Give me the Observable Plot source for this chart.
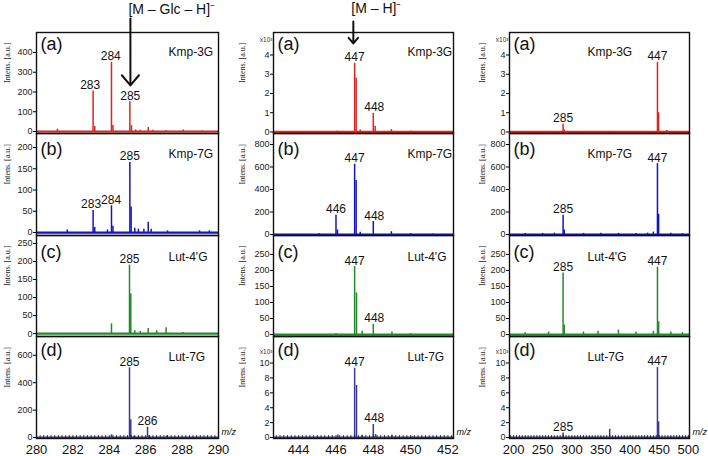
<!DOCTYPE html>
<html><head><meta charset="utf-8">
<script src="https://cdn.jsdelivr.net/npm/d3@7"></script>
<script src="https://cdn.jsdelivr.net/npm/@observablehq/plot@0.6"></script>
<style>
body{margin:0;background:#fff;}
#fig{position:relative;width:708px;height:456px;overflow:hidden;background:#fff;}
#fig svg{position:absolute;overflow:visible;background:transparent;}
</style></head><body><div id="fig"></div>
<script>
// ---------- categories ----------
const compounds = ["Kmp-3G", "Kmp-7G", "Lut-4'G", "Lut-7G"];
const panelTags = ["(a)", "(b)", "(c)", "(d)"];
const seriesColors = ["#e1231e", "#1414c4", "#25892b", "#3a3a94"];

// ---------- column 1: m/z 280–290 (fragment region) ----------
const fragMz_kmp3g  = [281.15, 283.11, 283.2, 284.12, 284.2, 285.13, 285.22, 285.45, 285.7, 286.14, 286.4, 287.1, 288.06, 289.1];
const fragInt_kmp3g = [12, 205, 25, 351, 30, 151, 30, 8, 6, 20, 6, 5, 8, 3];
const fragMz_kmp7g  = [281.69, 283.11, 283.2, 283.9, 284.12, 284.2, 285.13, 285.2, 285.4, 285.6, 285.9, 286.14, 286.3, 287.2, 288.96, 289.5];
const fragInt_kmp7g = [6, 52, 12, 6, 63, 15, 165, 60, 10, 8, 8, 24, 8, 4, 4, 4];
const fragMz_lut4g  = [284.12, 285.11, 285.18, 285.4, 285.7, 286.14, 286.6, 287.12, 288.06];
const fragInt_lut4g = [27, 190, 110, 8, 6, 14, 8, 16, 3];
const fragMz_lut7g  = [284.12, 285.11, 285.18, 285.35, 286.1, 286.2, 287.15];
const fragInt_lut7g = [20, 509, 130, 10, 75, 15, 12];

// ---------- column 2: m/z 443–452 ([M–H]- region); Kmp-3G and Lut-7G in x10^3 ----------
const parMz_kmp3g  = [445.0, 446.05, 447.0, 447.08, 447.3, 448.0, 448.1, 448.97, 450.0, 451.0];
const parInt_kmp3g = [0.02, 0.04, 3.57, 2.8, 0.1, 0.97, 0.3, 0.12, 0.04, 0.02];
const parMz_kmp7g  = [445.1, 446.0, 446.08, 447.0, 447.08, 447.3, 448.0, 448.97, 450.0, 451.2];
const parInt_kmp7g = [6, 170, 40, 625, 480, 20, 115, 25, 8, 4];
const parMz_lut4g  = [446.0, 447.0, 447.1, 447.4, 448.0, 449.0, 450.0];
const parInt_lut4g = [3, 212, 130, 10, 32, 8, 3];
const parMz_lut7g  = [445.0, 446.1, 447.0, 447.1, 447.4, 448.0, 448.12, 449.0, 450.1];
const parInt_lut7g = [0.1, 0.35, 9.3, 7.0, 0.3, 1.75, 0.4, 0.3, 0.1];

// ---------- column 3: m/z 200–500 (full range); Kmp-3G and Lut-7G in x10^3 ----------
const fullMz_kmp3g  = [230, 285, 287, 330, 365, 400, 447, 449, 463, 480];
const fullInt_kmp3g = [0.02, 0.4, 0.1, 0.02, 0.03, 0.02, 3.62, 1.0, 0.08, 0.02];
const fullMz_kmp7g  = [220, 250, 270, 285, 287, 320, 350, 380, 410, 430, 440, 447, 449, 470, 490];
const fullInt_kmp7g = [8, 10, 12, 172, 40, 10, 12, 10, 8, 12, 22, 630, 180, 10, 8];
const fullMz_lut4g  = [220, 260, 285, 287, 320, 345, 380, 410, 440, 447, 449, 470, 490];
const fullInt_lut4g = [6, 8, 192, 30, 8, 10, 14, 8, 10, 210, 40, 8, 6];
const fullMz_lut7g  = [240, 285, 300, 330, 350, 365, 400, 430, 447, 449, 470];
const fullInt_lut7g = [0.05, 0.62, 0.05, 0.08, 0.06, 1.1, 0.05, 0.05, 9.4, 2.1, 0.08];

// ---------- peak labels ----------
const fragLabelMz   = [[282.95, 284.08, 285.15], [283.0, 284.1, 285.13], [285.11], [285.11, 286.1]];
const fragLabelText = [["283", "284", "285"], ["283", "284", "285"], ["285"], ["285", "286"]];
const parLabelMz    = [[447.0, 448.05], [446.0, 447.0, 448.05], [447.0, 448.05], [447.0, 448.05]];
const parLabelText  = [["447", "448"], ["446", "447", "448"], ["447", "448"], ["447", "448"]];
const fullLabelMz   = [[285, 447], [285, 447], [285, 447], [285, 447]];
const fullLabelText = [["285", "447"], ["285", "447"], ["285", "447"], ["285", "447"]];

// ---------- axis ticks ----------
const fragXTicks = [280, 282, 284, 286, 288, 290];
const parXTicks  = [444, 446, 448, 450, 452];
const fullXTicks = [200, 250, 300, 350, 400, 450, 500];
const fragYTicks = [[0, 100, 200, 300, 400], [0, 50, 100, 150, 200], [0, 50, 100, 150, 200, 250], [0, 200, 400, 600]];
const parYTicks  = [[0, 1, 2, 3, 4], [0, 200, 400, 600, 800], [0, 50, 100, 150, 200, 250], [0, 2, 4, 6, 8, 10]];
const fullYTicks = parYTicks;
const kiloScaled = [[false, false, false, false], [true, false, false, true], [true, false, false, true]];

// ---------- annotations ----------
const annoText = ["[M – Glc – H]⁻", "[M – H]⁻"];
const annoMz   = [285.16, 446.93];
const annoTop  = [572, 5.74];
const annoTip  = [233, 4.6];
const annoTextY = [597, 6.16];

// ---------- build ----------
const spectraMz  = [[fragMz_kmp3g, fragMz_kmp7g, fragMz_lut4g, fragMz_lut7g],
                    [parMz_kmp3g, parMz_kmp7g, parMz_lut4g, parMz_lut7g],
                    [fullMz_kmp3g, fullMz_kmp7g, fullMz_lut4g, fullMz_lut7g]];
const spectraInt = [[fragInt_kmp3g, fragInt_kmp7g, fragInt_lut4g, fragInt_lut7g],
                    [parInt_kmp3g, parInt_kmp7g, parInt_lut4g, parInt_lut7g],
                    [fullInt_kmp3g, fullInt_kmp7g, fullInt_lut4g, fullInt_lut7g]];
const labelMz   = [fragLabelMz, parLabelMz, fullLabelMz];
const labelText = [fragLabelText, parLabelText, fullLabelText];
const xTicks = [fragXTicks, parXTicks, fullXTicks];
const yTicks = [fragYTicks, parYTicks, fullYTicks];

const cols = [
  {left: 0,   width: 240, mL: 36, mR: 22, xDomain: [280, 290],       minor: d3.range(280, 290.001, 0.2), nameDx: 132, tol: 0.3, ylabDx: -29,
   yDomains: [[-10, 501], [-7, 233], [-8, 272], [-7, 737]]},
  {left: 235, width: 240, mL: 38, mR: 22, xDomain: [442.65, 452.3], minor: d3.range(442.8, 452.3, 0.2), nameDx: 134, tol: 0.3, ylabDx: -31,
   yDomains: [[-0.08, 5.17], [-9, 898], [-6, 309], [-0.13, 13.56]]},
  {left: 470, width: 238, mL: 39, mR: 19, xDomain: [193, 502],      minor: d3.range(195, 502, 5), nameDx: 78, tol: 3, ylabDx: -27,
   yDomains: [[-0.08, 5.17], [-9, 898], [-6, 309], [-0.13, 13.56]]}
];
const rows = [
  {top: 0,   height: 133, mT: 32, mB: 0, tagDy: 12, nameDy: 20, kDy: 5},
  {top: 133, height: 102, mT: 0,  mB: 0, tagDy: 16, nameDy: 21, kDy: 5},
  {top: 235, height: 101, mT: 0,  mB: 0, tagDy: 17, nameDy: 22, kDy: 5},
  {top: 336, height: 120, mT: 0,  mB: 18, tagDy: 14, nameDy: 21, kDy: 13}
];

const fig = document.getElementById("fig");
cols.forEach((C, ci) => {
  rows.forEach((R, ri) => {
    const color = seriesColors[ri];
    const peaks = spectraMz[ci][ri].map((m, i) => ({mz: m, v: spectraInt[ci][ri][i]}));
    const labels = labelMz[ci][ri].map((m, i) => ({
      mz: m,
      v: d3.max(peaks.filter(p => Math.abs(p.mz - m) <= C.tol), p => p.v),
      t: labelText[ci][ri][i]
    }));
    const panelH = R.height - R.mT - R.mB;
    const marks = [
      Plot.ruleY([0], {stroke: color, strokeWidth: 2.2}),
      Plot.ruleX(peaks, {x: "mz", y1: 0, y2: "v", stroke: color, strokeWidth: 1.5}),
      Plot.frame({stroke: "#111", strokeWidth: 1.4}),
      Plot.axisY({ticks: yTicks[ci][ri], tickSize: 3, tickPadding: 1, fontSize: 9, tickFormat: d => String(d), fill: "#222", label: null}),
      Plot.text(labels, {x: "mz", y: "v", text: "t", dy: -2, lineAnchor: "bottom", fontSize: 12, fill: "#111"}),
      Plot.text([panelTags[ri]], {frameAnchor: "top-left", dx: 4, dy: R.tagDy, lineAnchor: "middle", textAnchor: "start", fontSize: 18, fill: "#111"}),
      Plot.text([compounds[ri]], {frameAnchor: "top-left", dx: C.nameDx, dy: R.nameDy, lineAnchor: "middle", textAnchor: "start", fontSize: 12, fill: "#111"}),
      Plot.text(["Intens. [a.u.]"], {frameAnchor: "left", dx: C.ylabDx, rotate: -90, fontSize: 8, fontFamily: "Liberation Serif, serif", fill: "#222"})
    ];
    if (kiloScaled[ci][ri]) {
      marks.push(Plot.text(["x10³"], {frameAnchor: "top-left", dx: -1, dy: R.kDy, textAnchor: "end", fontSize: 6.5, fill: "#333"}));
    }
    if (ri === 3) {
      marks.push(Plot.tickX(C.minor, {x: d => d, insetTop: panelH - 3, stroke: "#111", strokeWidth: 0.8}));
      marks.push(Plot.axisX({ticks: xTicks[ci], tickSize: 0, tickPadding: 6, fontSize: 13, tickFormat: d => String(d), fill: "#111", label: null}));
      marks.push(Plot.text(["m/z"], {frameAnchor: "bottom-right", dx: 3, dy: -4, textAnchor: "start", fontSize: 9, fontStyle: "italic", fill: "#111"}));
    }
    if (ri === 0 && ci < 2) {
      marks.push(Plot.arrow([0], {x1: annoMz[ci], x2: annoMz[ci], y1: annoTop[ci], y2: annoTip[ci], stroke: "#111", strokeWidth: 2, headLength: 10, headAngle: 80}));
      marks.push(Plot.text([annoText[ci]], {x: annoMz[ci], y: annoTextY[ci], dx: -2, textAnchor: "start", lineAnchor: "bottom", fontSize: 14, fill: "#111"}));
    }
    const svg = Plot.plot({
      width: C.width, height: R.height,
      marginLeft: C.mL, marginRight: C.mR, marginTop: R.mT, marginBottom: R.mB,
      x: ri === 3 ? {domain: C.xDomain, label: null} : {domain: C.xDomain, axis: null, label: null},
      y: {domain: C.yDomains[ri], label: null},
      style: {fontFamily: "Liberation Sans, Arial, sans-serif", fontSize: "9px", background: "transparent", overflow: "visible"},
      marks
    });
    svg.style.left = C.left + "px";
    svg.style.top = R.top + "px";
    fig.appendChild(svg);
  });
});
</script>
</body></html>
